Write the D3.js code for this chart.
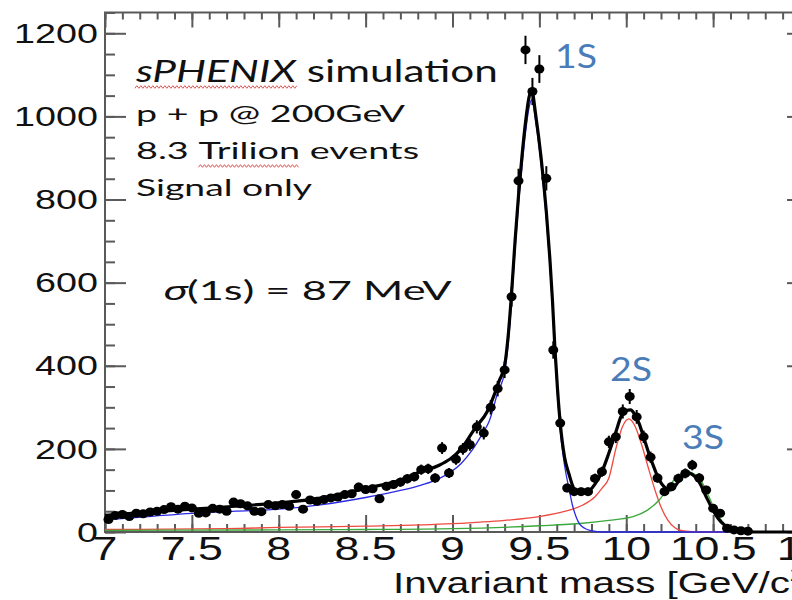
<!DOCTYPE html>
<html><head><meta charset="utf-8">
<script src="https://cdn.jsdelivr.net/npm/d3@7"></script>
<style>body{margin:0;background:#fff;overflow:hidden}</style>
</head><body><svg id="c" width="792" height="600"></svg>
<script>
// ---------- data ----------
const binCenters = [7.02,7.06,7.10,7.14,7.18,7.22,7.26,7.30,7.34,7.38,7.42,7.46,7.50,7.54,7.58,7.62,7.66,7.70,7.74,7.78,7.82,7.86,7.90,7.94,7.98,
  8.02,8.06,8.10,8.14,8.18,8.22,8.26,8.30,8.34,8.38,8.42,8.46,8.50,8.54,8.58,8.62,8.66,8.70,8.74,8.78,8.82,8.86,8.90,8.94,8.98,
  9.02,9.06,9.10,9.14,9.18,9.22,9.26,9.30,9.34,9.38,9.42,9.46,9.50,9.54,9.58,9.62,9.66,9.70,9.74,9.78,9.82,9.86,9.90,9.94,9.98,
  10.02,10.06,10.10,10.14,10.18,10.22,10.26,10.30,10.34,10.38,10.42,10.46,10.50,10.54,10.58,10.62,10.66,10.70];
const counts = [30,40,42,37,45,44,48,50,54,61,55,62,58,45,46,57,55,50,72,68,63,50,49,66,63,
  66,62,90,55,77,74,78,82,84,90,92,108,102,104,80,110,114,120,128,133,150,152,130,202,142,
  175,200,210,253,238,300,345,390,566,845,1160,1060,1114,851,438,262,106,97,97,97,129,145,217,229,290,
  326,277,229,180,130,97,109,129,141,161,130,101,57,45,9,5,3,2];
const errors = [5.5,6.3,6.5,6.1,6.7,6.6,6.9,7.1,7.3,7.8,7.4,7.9,7.6,6.7,6.8,7.5,7.4,7.1,8.5,8.2,7.9,7.1,7.0,8.1,7.9,
  8.1,7.9,9.5,7.4,8.8,8.6,8.8,9.1,9.2,9.5,9.6,10.4,10.1,10.2,8.9,10.5,10.7,11,11.3,11.5,12.2,12.3,11.4,14.2,11.9,
  13.2,14.1,14.5,15.9,15.4,17.3,18.6,19.7,23.8,29.1,34.1,32.6,33.4,29.2,20.9,16.2,10.3,9.8,9.8,9.8,11.4,12,14.7,15.1,17,
  18.1,16.6,15.1,13.4,11.4,9.8,10.4,11.4,11.9,12.7,11.4,10,7.5,6.7,3,2.2,1.7,1.4];

// total fit (black)
const totalX = [7.0,7.25,7.5,7.75,8.0,8.25,8.5,8.7,8.82,8.92,9.05,9.13,9.2,9.24,9.27,9.30,9.32,9.34,9.36,9.38,9.40,9.42,9.44,9.455,
  9.48,9.51,9.54,9.56,9.575,9.59,9.605,9.62,9.645,9.67,9.70,9.73,9.76,9.79,9.82,9.86,9.90,9.94,9.97,10.0,10.025,10.05,10.075,
  10.10,10.13,10.16,10.19,10.22,10.25,10.28,10.31,10.34,10.36,10.39,10.42,10.46,10.50,10.53,10.57,10.61,10.65,10.7,10.8,11.0];
const totalY = [40,48,55,62,70,82,105,125,146,160,200,250,290,330,365,400,470,575,700,810,905,985,1045,1064,
  1000,900,770,660,560,438,340,262,180,140,104,96,95,100,115,145,190,240,278,292,294,282,260,
  228,189,155,125,108,101,110,127,140,142,135,120,85,52,32,15,5,1.5,0.5,0,0];
// 1S component (blue)
const s1X = [7.0,7.25,7.5,7.75,8.0,8.25,8.5,8.7,8.82,8.92,9.05,9.11,9.17,9.21,9.26,9.30,9.32,9.34,9.36,9.38,9.40,9.42,9.44,9.455,
  9.48,9.51,9.54,9.56,9.575,9.59,9.605,9.62,9.645,9.67,9.69,9.71,9.73,9.76,9.80,9.85,9.9,11.0];
const s1Y = [29,37,45,50,55,66,83,100,113,128,165,195,235,265,335,385,450,555,680,790,880,960,1020,1040,
  985,885,755,645,545,425,325,245,160,105,65,38,20,9,3,0.5,0,0];
// 2S component (red)
const s2X = [7.0,7.7,8.0,8.5,9.0,9.3,9.5,9.65,9.75,9.82,9.86,9.90,9.94,9.98,10.015,10.05,10.09,10.13,10.17,10.20,10.24,10.28,10.32,10.38,10.5,11.0];
const s2Y = [6,8,11,14,20,28,37,50,65,85,105,130,200,255,272,255,208,150,95,60,28,10,3,1,0,0];
// 3S component (green)
const s3X = [7.0,8.0,8.5,9.0,9.5,9.75,9.9,10.04,10.12,10.19,10.24,10.28,10.32,10.35,10.39,10.42,10.46,10.50,10.54,10.58,10.62,10.66,10.7,11.0];
const s3Y = [4,5,6,8,15,21,28,37,52,77,105,128,142,145,140,130,100,62,32,13,5,2,0,0];

const xTickValues = [7,7.5,8,8.5,9,9.5,10,10.5,11];
const xTickLabels = ["7","7.5","8","8.5","9","9.5","10","10.5","11"];
const yTickValues = [0,200,400,600,800,1000,1200];
const yTickLabels = ["0","200","400","600","800","1000","1200"];

// ---------- drawing ----------
const svg = d3.select("#c");
const L = 105, R = 800, T = 12.5, B = 532;
const x = d3.scaleLinear().domain([7,11]).range([L,R]);
const y = d3.scaleLinear().domain([0,1250]).range([B,T]);
const axisCol = "#5a5a5a";

function styleAxis(g){
  g.select(".domain").remove();
  g.selectAll("line").attr("stroke",axisCol).attr("stroke-width",2);
  g.selectAll("text").remove();
}
const xMinor = d3.range(7,11.001,0.1).map(v=>+v.toFixed(2));
const yMinor = d3.range(0,1251,50);

// bottom
svg.append("g").attr("transform",`translate(0,${B})`).call(d3.axisTop(x).tickValues(xMinor).tickSize(8)).call(styleAxis);
svg.append("g").attr("transform",`translate(0,${B})`).call(d3.axisTop(x).tickValues(xTickValues).tickSize(17)).call(styleAxis);
// top
svg.append("g").attr("transform",`translate(0,${T})`).call(d3.axisBottom(x).tickValues(xMinor).tickSize(7)).call(styleAxis);
svg.append("g").attr("transform",`translate(0,${T})`).call(d3.axisBottom(x).tickValues(xTickValues).tickSize(15)).call(styleAxis);
// left
svg.append("g").attr("transform",`translate(${L},0)`).call(d3.axisRight(y).tickValues(yMinor).tickSize(10)).call(styleAxis);
svg.append("g").attr("transform",`translate(${L},0)`).call(d3.axisRight(y).tickValues(yTickValues).tickSize(21)).call(styleAxis);
// right
svg.append("g").attr("transform",`translate(${R},0)`).call(d3.axisLeft(y).tickValues(yMinor).tickSize(6)).call(styleAxis);
svg.append("g").attr("transform",`translate(${R},0)`).call(d3.axisLeft(y).tickValues(yTickValues).tickSize(13)).call(styleAxis);
// frame
svg.append("rect").attr("x",L).attr("y",T).attr("width",R-L).attr("height",B-T)
  .attr("fill","none").attr("stroke",axisCol).attr("stroke-width",2);

// curves
const line = (xs,ys)=>d3.line().x((d,i)=>x(xs[i])).y(d=>y(d)).curve(d3.curveMonotoneX)(ys);
svg.append("path").attr("d",line(s2X,s2Y)).attr("fill","none").attr("stroke","#ee4a40").attr("stroke-width",1.3);
svg.append("path").attr("d",line(s3X,s3Y)).attr("fill","none").attr("stroke","#3aa83a").attr("stroke-width",1.3);
svg.append("path").attr("d",line(s1X,s1Y)).attr("fill","none").attr("stroke","#2a2ae6").attr("stroke-width",1.3);
svg.append("path").attr("d",line(totalX,totalY)).attr("fill","none").attr("stroke","#000").attr("stroke-width",3.2);

// data points
const pts = svg.append("g");
pts.selectAll("line").data(counts).join("line")
  .attr("x1",(d,i)=>x(binCenters[i])).attr("x2",(d,i)=>x(binCenters[i]))
  .attr("y1",(d,i)=>y(d+errors[i])).attr("y2",(d,i)=>y(d-errors[i]))
  .attr("stroke","#000").attr("stroke-width",2);
pts.selectAll("ellipse").data(counts).join("ellipse")
  .attr("cx",(d,i)=>x(binCenters[i])).attr("cy",d=>y(d))
  .attr("rx",5).attr("ry",4.5).attr("fill","#000");

// helpers
function scaleAround(t, sx){
  const x0 = +t.attr("x");
  t.attr("transform",`translate(${x0*(1-sx)},0) scale(${sx},1)`);
}
function fit(t, w){ scaleAround(t, w / t.node().getComputedTextLength()); }

// tick labels
const tickFont = "'Liberation Sans', Arial, sans-serif";
const yl = svg.append("g").selectAll("text").data(yTickValues).join("text")
  .attr("x",98).attr("y",d=>y(d)).attr("dy","0.36em").attr("text-anchor","end")
  .attr("font-family",tickFont).attr("font-size",27).attr("fill","#111")
  .text((d,i)=>yTickLabels[i]);
const ysx = 84 / yl.filter(d=>d===1200).node().getComputedTextLength();
yl.each(function(){ scaleAround(d3.select(this), ysx); });

const xl = svg.append("g").selectAll("text").data(xTickValues).join("text")
  .attr("x",d=>x(d)).attr("y",560).attr("text-anchor","middle")
  .attr("font-family",tickFont).attr("font-size",33).attr("fill","#111")
  .text((d,i)=>xTickLabels[i]);
const xsx = 87 / xl.filter(d=>d===10.5).node().getComputedTextLength();
xl.each(function(){ scaleAround(d3.select(this), xsx); });

// axis title
const at = svg.append("text").attr("x",393).attr("y",593)
  .attr("font-family",tickFont).attr("font-size",29).attr("fill","#111");
at.append("tspan").text("Invariant mass [GeV/c");
at.append("tspan").attr("font-size",18).attr("dy",-12).text("2");
at.append("tspan").attr("dy",12).text("]");
scaleAround(at, 397 / at.node().getSubStringLength(0,21));

// annotations
const annFont = "Lato, 'Open Sans', sans-serif";
const ann = svg.append("g").attr("font-family",annFont).attr("fill","#111");
const l1 = ann.append("text").attr("x",136).attr("y",82).attr("font-size",31);
const sph = l1.append("tspan").attr("font-style","italic").text("sPHENIX");
l1.append("tspan").text(" simulation");
fit(l1, 362);
const l2 = ann.append("text").attr("x",136).attr("y",122).attr("font-size",23).text("p + p @ 200GeV");
fit(l2, 269);
const l3 = ann.append("text").attr("x",136).attr("y",159).attr("font-size",23);
l3.append("tspan").text("8.3 ");
const tri = l3.append("tspan").text("Trilion");
l3.append("tspan").text(" events");
fit(l3, 282);
const l4 = ann.append("text").attr("x",136).attr("y",196).attr("font-size",23).text("Signal only");
fit(l4, 176);
const l5 = ann.append("text").attr("x",163).attr("y",300).attr("font-size",26);
l5.append("tspan").attr("font-family","'Noto Sans', 'DejaVu Sans', sans-serif").attr("font-style","italic").text("σ");
l5.append("tspan").text("(1s) = 87 MeV");
fit(l5, 289);

// wavy spell-check underlines
function wavy(tspan, yPos){
  const r = tspan.node().getBoundingClientRect();
  const pts = [];
  let k = 0;
  for (let px = r.left; px <= r.right; px += 2, k++) pts.push([px, yPos + (k%2 ? -1.3 : 1.3)]);
  svg.append("path").attr("d", d3.line()(pts)).attr("fill","none").attr("stroke","#e05555").attr("stroke-width",1);
}
wavy(sph, 87);
wavy(tri, 166);

// peak labels
const lab = svg.append("g").attr("font-family",annFont).attr("font-size",33).attr("fill","#4a7cb8");
const peakLabels = [["1S",555,68],["2S",610,381],["3S",682,449]];
peakLabels.forEach(([s,px,py])=>{
  const t = lab.append("text").attr("x",px).attr("y",py).text(s);
  fit(t, 42);
});
</script></body></html>
